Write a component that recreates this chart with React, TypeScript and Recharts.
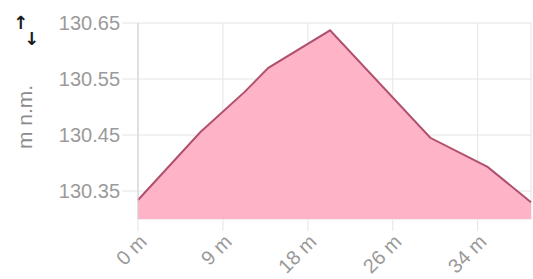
import { Area, AreaChart, CartesianGrid, XAxis, YAxis } from "recharts";

const distances = [0, 6.3, 10.8, 13.2, 19.45, 29.6, 35.4, 39.8];
const elevations = [130.334, 130.455, 130.527, 130.57, 130.637, 130.445, 130.393, 130.33];
const xTicks = [0, 8.6, 17.2, 25.8, 34.4];
const xTickLabels = ["0 m", "9 m", "18 m", "26 m", "34 m"];
const yTicks = [130.35, 130.45, 130.55, 130.65];
const yLabel = "m n.m.";

const data = distances.map((d, i) => ({ d, elev: elevations[i] }));

const font = "'Liberation Sans', Arial, sans-serif";

export default function App() {
  return (
    <div style={{ position: "absolute", left: 0, top: 0, width: 533, height: 279, fontFamily: font }}>
      <div style={{ position: "absolute", left: 13, top: 12, fontFamily: "'DejaVu Sans', sans-serif", fontSize: 18, fontWeight: 700, color: "#1a1a1a", lineHeight: 1 }}>
        <span style={{ position: "absolute", left: 0, top: 2 }}>↑</span>
        <span style={{ position: "absolute", left: 11, top: 18 }}>↓</span>
      </div>
      <div
        style={{
          position: "absolute",
          left: 24,
          top: 117,
          transform: "translate(-50%, -50%) rotate(-90deg)",
          whiteSpace: "nowrap",
          fontSize: 21,
          color: "#8c8c8c",
          lineHeight: 1
        }}
      >
        {yLabel}
      </div>
      <AreaChart width={533} height={279} data={data} margin={{ top: 23, right: 2, bottom: 0, left: 0 }}>
        <CartesianGrid stroke="#e4e4e4" />
        <XAxis
          dataKey="d"
          type="number"
          domain={[0, 39.8]}
          ticks={xTicks}
          allowDecimals
          tickFormatter={(v: number) => xTickLabels[xTicks.indexOf(v)] ?? ""}
          axisLine={false}
          tickLine={{ stroke: "#e4e4e4" }}
          tickSize={12}
          angle={-45}
          textAnchor="end"
          height={60}
          tick={{ fill: "#9a9a9a", fontSize: 20 }}
        />
        <YAxis
          type="number"
          domain={[130.3, 130.65]}
          ticks={yTicks}
          width={138}
          tickFormatter={(v: number) => v.toFixed(2)}
          axisLine={{ stroke: "#cfcfcf" }}
          tickLine={{ stroke: "#e4e4e4" }}
          tickSize={16}
          tick={{ fill: "#9a9a9a", fontSize: 20 }}
        />
        <Area
          type="linear"
          dataKey="elev"
          stroke="#b0506f"
          strokeWidth={2}
          fill="#ffb3c6"
          fillOpacity={1}
          isAnimationActive={false}
        />
      </AreaChart>
    </div>
  );
}
